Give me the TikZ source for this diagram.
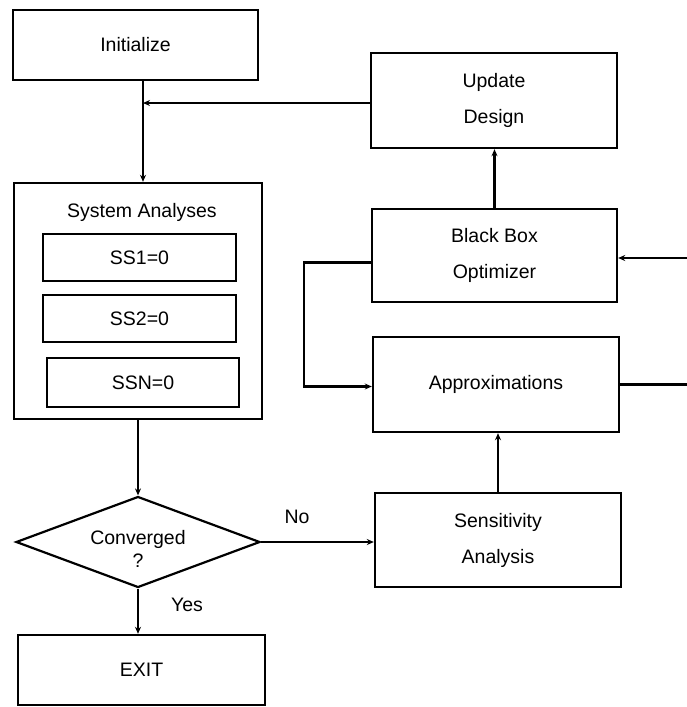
\documentclass[tikz,border=0pt]{standalone}
\usepackage{fontspec}
\setmainfont{Liberation Sans}
\usetikzlibrary{shapes.geometric,arrows.meta,calc}

\tikzset{
  blk/.style={draw, line width=2.4pt, rectangle, inner sep=0pt, align=center,
    font=\fontsize{19.5}{36}\selectfont},
  sub/.style={blk, line width=2.2pt, minimum width=193pt, minimum height=47pt},
  lbl/.style={inner sep=0pt, font=\fontsize{19.5}{24}\selectfont},
  arr/.style={line width=2.2pt, -{Stealth[length=7pt,width=6pt]}},
  ln/.style={line width=2.2pt},
}

\begin{document}
\begin{tikzpicture}[x=1pt, y=-1pt]
\useasboundingbox (0,0) rectangle (687,707);

% left column
\node[blk, minimum width=245pt, minimum height=70pt] (init) at (135.5,45) {Initialize};
\node[blk, minimum width=248pt, minimum height=236pt] (sys) at (138,301) {};
\node[lbl] (systitle) at (142,212) {System Analyses};
\node[sub] (ss1) at (139.5,257.5) {SS1=0};
\node[sub] (ss2) at (139.5,318.5) {SS2=0};
\node[sub, minimum width=192pt, minimum height=49pt] (ssn) at (143,382.5) {SSN=0};
\node[draw, diamond, shape aspect=2.68, line width=2.2pt, minimum width=244pt,
      minimum height=91pt, inner sep=0pt] (conv) at (138,542) {};
\node[lbl, align=center, font=\fontsize{19.5}{23}\selectfont] (convtext)
      at (138,548.5) {Converged\\?};
\node[blk, minimum width=247pt, minimum height=70pt] (exit) at (141.5,670) {EXIT};

% right column
\node[blk, minimum width=246pt, minimum height=95pt] (upd) at (494,100.5) {Update\\Design};
\node[blk, minimum width=245pt, minimum height=93pt] (bbo) at (494.5,255.5) {Black Box\\Optimizer};
\node[blk, minimum width=246pt, minimum height=95pt] (apx) at (496,384.5) {Approximations};
\node[blk, minimum width=246pt, minimum height=94pt] (sen) at (498,540) {Sensitivity\\Analysis};

% branch labels
\node[lbl] (no) at (297,517) {No};
\node[lbl] (yes) at (187,605) {Yes};

% free ends at the right border and the junction below Initialize
\coordinate (join) at (143,103);
\coordinate (rin) at (687,258);
\coordinate (rout) at (687,384);

% connectors
\draw[arr] (init.south -| join) -- (sys.north -| join);
\draw[arr] (upd.west |- join) -- (join);
\draw[arr] (sys.south) -- (conv.north);
\draw[arr] (conv.south) -- (conv.south |- exit.north);
\draw[arr] (conv.east) -- (conv.east -| sen.west);
\draw[arr] (sen.north) -- (sen.north |- apx.south);
\draw[arr] (bbo.north) -- (bbo.north |- upd.south);
\draw[arr] ([yshift=-7pt]bbo.west) -- ++(-67,0) |- ([yshift=-2pt]apx.west);
\draw[arr] (rin) -- (rin -| bbo.east);
\draw[ln] (apx.east) -- (apx.east -| rout);
\end{tikzpicture}
\end{document}
